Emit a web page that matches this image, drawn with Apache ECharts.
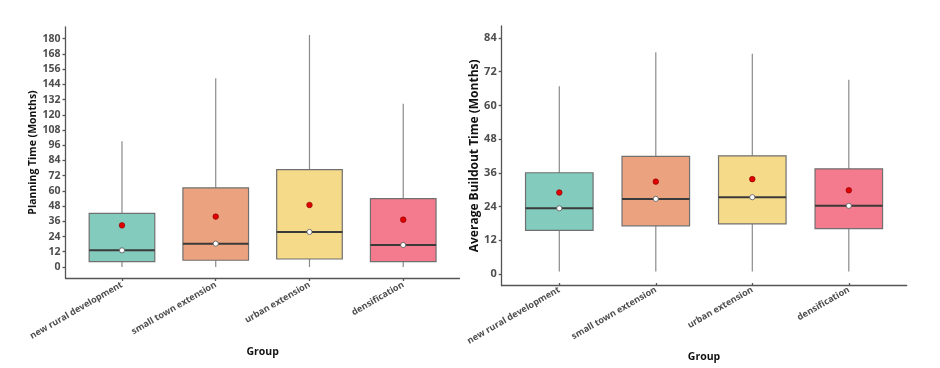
<!DOCTYPE html>
<html>
<head>
<meta charset="utf-8">
<script src="https://cdn.jsdelivr.net/npm/echarts@6/dist/echarts.min.js"></script>
<style>
html,body{margin:0;padding:0;background:#fff;}
#chart{width:940px;height:368px;}
</style>
</head>
<body>
<div id="chart"></div>
<script>
const categories = ['new rural development', 'small town extension', 'urban extension', 'densification'];
const boxColors = ['#82CBBD', '#EBA37F', '#F5DA8A', '#F47A8D'];

// Planning time (months)
const planMin = [0, 0, 0, 0];
const planQ1 = [4.2, 5.3, 6.3, 4.2];
const planMed = [13.1, 18.4, 27.6, 17.3];
const planQ3 = [42.3, 62.3, 76.7, 53.9];
const planMax = [99.1, 148.7, 182.9, 128.7];
const planMean = [32.8, 39.7, 48.9, 37.3];
const planTicks = [0, 12, 24, 36, 48, 60, 72, 84, 96, 108, 120, 132, 144, 156, 168, 180];

// Average buildout time (months)
const buildMin = [0, 0, 0, 0];
const buildQ1 = [14.8, 16.4, 17.1, 15.4];
const buildMed = [22.7, 26.1, 26.7, 23.6];
const buildQ3 = [35.5, 41.4, 41.6, 36.9];
const buildMax = [66.6, 78.8, 78.3, 68.9];
const buildMean = [28.4, 32.3, 33.2, 29.2];
const buildTicks = [0, 12, 24, 36, 48, 60, 72, 84];

function rows(mn, q1, md, q3, mx, mean) {
  return categories.map((c, i) => [i, mn[i], q1[i], md[i], q3[i], mx[i], mean[i]]);
}

function renderBox(params, api) {
  const i = api.value(0);
  const x = api.coord([i, 0])[0];
  const bw = api.size([1, 0])[0] * 0.7;
  const yMin = api.coord([i, api.value(1)])[1];
  const yQ1 = api.coord([i, api.value(2)])[1];
  const yMed = api.coord([i, api.value(3)])[1];
  const yQ3 = api.coord([i, api.value(4)])[1];
  const yMax = api.coord([i, api.value(5)])[1];
  const yMean = api.coord([i, api.value(6)])[1];
  return {
    type: 'group',
    children: [
      { type: 'line', shape: { x1: x, y1: yMin, x2: x, y2: yMax }, style: { stroke: '#8a8a8a', lineWidth: 1.2 } },
      { type: 'rect', shape: { x: x - bw / 2, y: yQ3, width: bw, height: yQ1 - yQ3 }, style: { fill: boxColors[i], stroke: '#707070', lineWidth: 1.2 } },
      { type: 'line', shape: { x1: x - bw / 2, y1: yMed, x2: x + bw / 2, y2: yMed }, style: { stroke: '#3a3a3a', lineWidth: 2 } },
      { type: 'circle', shape: { cx: x, cy: yMed, r: 2.6 }, style: { fill: '#ffffff', stroke: '#555555', lineWidth: 0.8 } },
      { type: 'circle', shape: { cx: x, cy: yMean, r: 2.8 }, style: { fill: '#e00000', stroke: '#800000', lineWidth: 0.6 } }
    ]
  };
}

const FONT = 'Open Sans';
const axisLineStyle = { color: '#555555', width: 1.3 };
const tickLabel = { fontFamily: FONT, fontWeight: 'bold', color: '#4d4d4d' };
const nameStyle = { fontFamily: FONT, fontWeight: 'bold', color: '#111111' };

const chart = echarts.init(document.getElementById('chart'), null, { renderer: 'canvas' });

chart.setOption({
  animation: false,
  backgroundColor: '#ffffff',
  grid: [
    { left: 65.5, top: 27, width: 394, height: 251 },
    { left: 75.1, top: 27, width: 375, height: 251 },
    { left: 501.7, top: 26, width: 405, height: 259.7 },
    { left: 511.05, top: 26, width: 386, height: 259.7 }
  ],
  xAxis: [
    { gridIndex: 0, type: 'value', min: 0, max: 1, axisLine: { show: true, onZero: false, lineStyle: axisLineStyle }, axisTick: { show: false }, axisLabel: { show: false }, splitLine: { show: false } },
    { gridIndex: 1, type: 'category', data: categories,
      axisLine: { show: false, onZero: false }, axisTick: { show: true, alignWithLabel: true, length: 3, lineStyle: axisLineStyle },
      axisLabel: Object.assign({ rotate: 30, fontSize: 9, margin: 6, interval: 0 }, tickLabel),
      name: 'Group', nameLocation: 'middle', nameGap: 69, nameTextStyle: Object.assign({ fontSize: 10.5 }, nameStyle) },
    { gridIndex: 2, type: 'value', min: 0, max: 1, axisLine: { show: true, onZero: false, lineStyle: axisLineStyle }, axisTick: { show: false }, axisLabel: { show: false }, splitLine: { show: false } },
    { gridIndex: 3, type: 'category', data: categories,
      axisLine: { show: false, onZero: false }, axisTick: { show: true, alignWithLabel: true, length: 3, lineStyle: axisLineStyle },
      axisLabel: Object.assign({ rotate: 30, fontSize: 9, margin: 6, interval: 0 }, tickLabel),
      name: 'Group', nameLocation: 'middle', nameGap: 62, nameTextStyle: Object.assign({ fontSize: 10.5 }, nameStyle) }
  ],
  yAxis: [
    { gridIndex: 0, type: 'value', min: -8.7, max: 189.2,
      axisLine: { show: true, onZero: false, lineStyle: axisLineStyle },
      axisTick: { show: true, length: 3, customValues: planTicks, lineStyle: axisLineStyle },
      axisLabel: Object.assign({ customValues: planTicks, fontSize: 10.5, margin: 5 }, tickLabel),
      splitLine: { show: false },
      name: 'Planning Time (Months)', nameLocation: 'middle', nameGap: 25.5, nameTextStyle: Object.assign({ fontSize: 10.5 }, nameStyle) },
    { gridIndex: 1, type: 'value', min: -8.7, max: 189.2, show: false },
    { gridIndex: 2, type: 'value', min: -4.16, max: 88.27,
      axisLine: { show: true, onZero: false, lineStyle: axisLineStyle },
      axisTick: { show: true, length: 3, customValues: buildTicks, lineStyle: axisLineStyle },
      axisLabel: Object.assign({ customValues: buildTicks, fontSize: 11, margin: 5 }, tickLabel),
      splitLine: { show: false },
      name: 'Average Buildout Time (Months)', nameLocation: 'middle', nameGap: 17, nameTextStyle: Object.assign({ fontSize: 12 }, nameStyle) },
    { gridIndex: 3, type: 'value', min: -4.16, max: 88.27, show: false }
  ],
  series: [
    { type: 'custom', xAxisIndex: 1, yAxisIndex: 1, renderItem: renderBox,
      encode: { x: 0, y: [1, 2, 3, 4, 5, 6] },
      data: rows(planMin, planQ1, planMed, planQ3, planMax, planMean) },
    { type: 'custom', xAxisIndex: 3, yAxisIndex: 3, renderItem: renderBox,
      encode: { x: 0, y: [1, 2, 3, 4, 5, 6] },
      data: rows(buildMin, buildQ1, buildMed, buildQ3, buildMax, buildMean) }
  ]
});
</script>
</body>
</html>
